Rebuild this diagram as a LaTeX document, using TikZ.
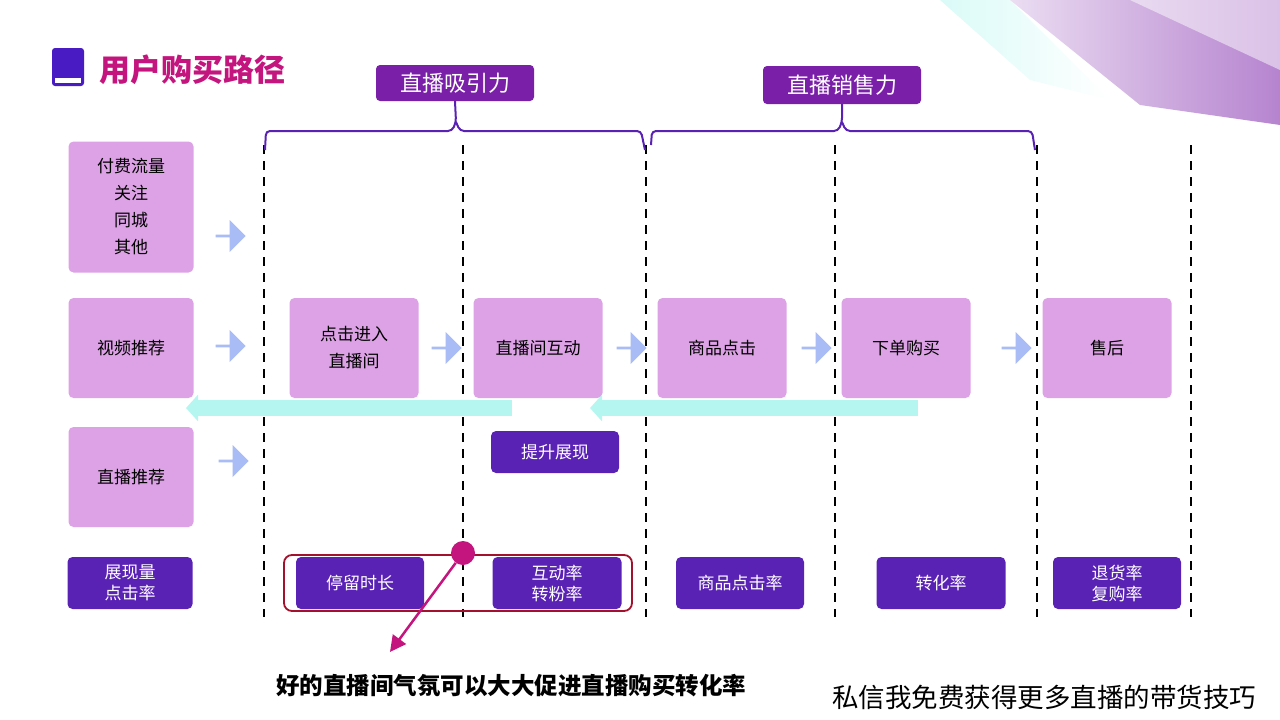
\documentclass[tikz,border=0pt]{standalone}
\usepackage{fontspec}
\setmainfont{Noto Sans CJK SC}
\usetikzlibrary{arrows.meta,shapes.arrows,decorations.pathreplacing}
\definecolor{pinkb}{HTML}{DDA2E6}
\definecolor{deep}{HTML}{5A22B4}
\definecolor{lab}{HTML}{7A1FA8}
\definecolor{blarr}{HTML}{A9BCF5}
\definecolor{cyanarr}{HTML}{B5F7F0}
\definecolor{mag}{HTML}{C4157E}
\definecolor{dred}{HTML}{A3122C}
\tikzset{
 pbox/.style={fill=pinkb,rounded corners=5pt,align=center,font=\fontsize{17}{27}\selectfont,inner sep=0pt},
 dbox/.style={fill=deep,text=white,rounded corners=5pt,align=center,font=\fontsize{17}{21}\selectfont,inner sep=0pt},
 labbox/.style={fill=lab,text=white,rounded corners=4pt,font=\fontsize{22}{24}\selectfont,inner sep=0pt},
 barr/.style={single arrow,fill=blarr,minimum height=30pt,minimum width=32pt,single arrow head extend=2pt,inner sep=0pt,shape border rotate=0},
 dline/.style={black,line width=1.6pt,dash pattern=on 9pt off 7pt},
 cyarrow/.style={draw=cyanarr,line width=16pt,-{Triangle[length=12pt,width=26pt]}},
}
\begin{document}
\begin{tikzpicture}[x=1pt,y=-1pt]
\useasboundingbox (0,0) rectangle (1280,720);
% top-right decoration
\shade[left color=cyanarr!50,right color=white] (940,0) -- (1010,0) -- (1110,100) -- (1030,80) -- cycle;
\shade[left color=lab!15,right color=lab!55] (1010,0) -- (1280,0) -- (1280,125) -- (1140,105) -- cycle;
\fill[white,opacity=0.5] (1130,0) -- (1280,0) -- (1280,70) -- cycle;
% title
\fill[deep!80!blue,rounded corners=3pt] (52,48) rectangle (84,86);
\fill[white] (55,78) rectangle (81,83);
\node[anchor=west,font=\fontsize{31}{33}\selectfont\bfseries,text=mag] (title) at (96,70) {用户购买路径};
% dashed lines
\foreach \x/\n in {264/d1,463/d2,646/d3,835/d4,1037/d5,1191/d6}{
 \coordinate (\n t) at (\x,145); \coordinate (\n b) at (\x,617);
 \draw[dline] (\n t) -- (\n b);}
% labels and braces
\node[labbox,minimum width=158pt,minimum height=36pt] (L1) at (455,83) {直播吸引力};
\node[labbox,minimum width=158pt,minimum height=38pt] (L2) at (842,85) {直播销售力};
\coordinate (b1l) at (265,150); \coordinate (b1r) at (645,150);
\coordinate (b2l) at (651,145); \coordinate (b2r) at (1035,150);
\draw[deep,line width=2pt,rounded corners=4pt] (b1l) -- (266,131) -- (452,131) -- (456,122) -- (L1.south) (456,122) -- (460,131) -- (641,131) -- (b1r);
\draw[deep,line width=2pt,rounded corners=4pt] (b2l) -- (652,131) -- (838,131) -- (842,122) -- (L2.south) (842,122) -- (846,131) -- (1032,131) -- (b2r);
% left column
\node[pbox,minimum width=125pt,minimum height=131pt] (s1) at (131,207) {付费流量\\关注\\同城\\其他};
\node[pbox,minimum width=125pt,minimum height=100pt] (s2) at (131,348) {视频推荐};
\node[pbox,minimum width=125pt,minimum height=100pt] (s3) at (131,477) {直播推荐};
% row
\node[pbox,minimum width=129pt,minimum height=100pt] (r1) at (354,348) {点击进入\\直播间};
\node[pbox,minimum width=129pt,minimum height=100pt] (r2) at (538,348) {直播间互动};
\node[pbox,minimum width=129pt,minimum height=100pt] (r3) at (722,348) {商品点击};
\node[pbox,minimum width=129pt,minimum height=100pt] (r4) at (906,348) {下单购买};
\node[pbox,minimum width=129pt,minimum height=100pt] (r5) at (1107,348) {售后};
% blue arrows
\node[barr] (a1) at (230,236) {};
\node[barr] (a2) at (230,346) {};
\node[barr] (a3) at (233,461) {};
\node[barr] (a4) at (446,348) {};
\node[barr] (a5) at (631,348) {};
\node[barr] (a6) at (816,348) {};
\node[barr] (a7) at (1016,348) {};
% cyan arrows
\coordinate (c1s) at (512,408); \coordinate (c1e) at (186,408);
\coordinate (c2s) at (918,408); \coordinate (c2e) at (590,408);
\draw[cyarrow] (c1s) -- (c1e);
\draw[cyarrow] (c2s) -- (c2e);
% dark boxes
\node[dbox,minimum width=128pt,minimum height=42pt] (up) at (555,452) {提升展现};
\node[dbox,minimum width=125pt,minimum height=52pt] (m1) at (130,583) {展现量\\点击率};
\node[dbox,minimum width=128pt,minimum height=52pt] (m2) at (360,583) {停留时长};
\node[dbox,minimum width=129pt,minimum height=52pt] (m3) at (557,583) {互动率\\转粉率};
\node[dbox,minimum width=128pt,minimum height=52pt] (m4) at (740,583) {商品点击率};
\node[dbox,minimum width=129pt,minimum height=52pt] (m5) at (941,583) {转化率};
\node[dbox,minimum width=128pt,minimum height=52pt] (m6) at (1117,583) {退货率\\复购率};
\node[draw=dred,line width=1.8pt,rounded corners=8pt,minimum width=348pt,minimum height=56pt] (hl) at (458,583) {};
% callout
\node[circle,fill=mag,minimum size=24pt,inner sep=0pt] (dot) at (463,553) {};
\node[font=\fontsize{23.5}{26}\selectfont\bfseries] (note) at (511,686) {好的直播间气氛可以大大促进直播购买转化率};
\coordinate (tip) at (390,652);
\draw[mag,line width=2.5pt,-{Triangle[length=16pt,width=16pt]}] (dot) -- (tip);
\node[font=\fontsize{26.5}{28}\selectfont] (ad) at (1044,697) {私信我免费获得更多直播的带货技巧};
\end{tikzpicture}
\end{document}
